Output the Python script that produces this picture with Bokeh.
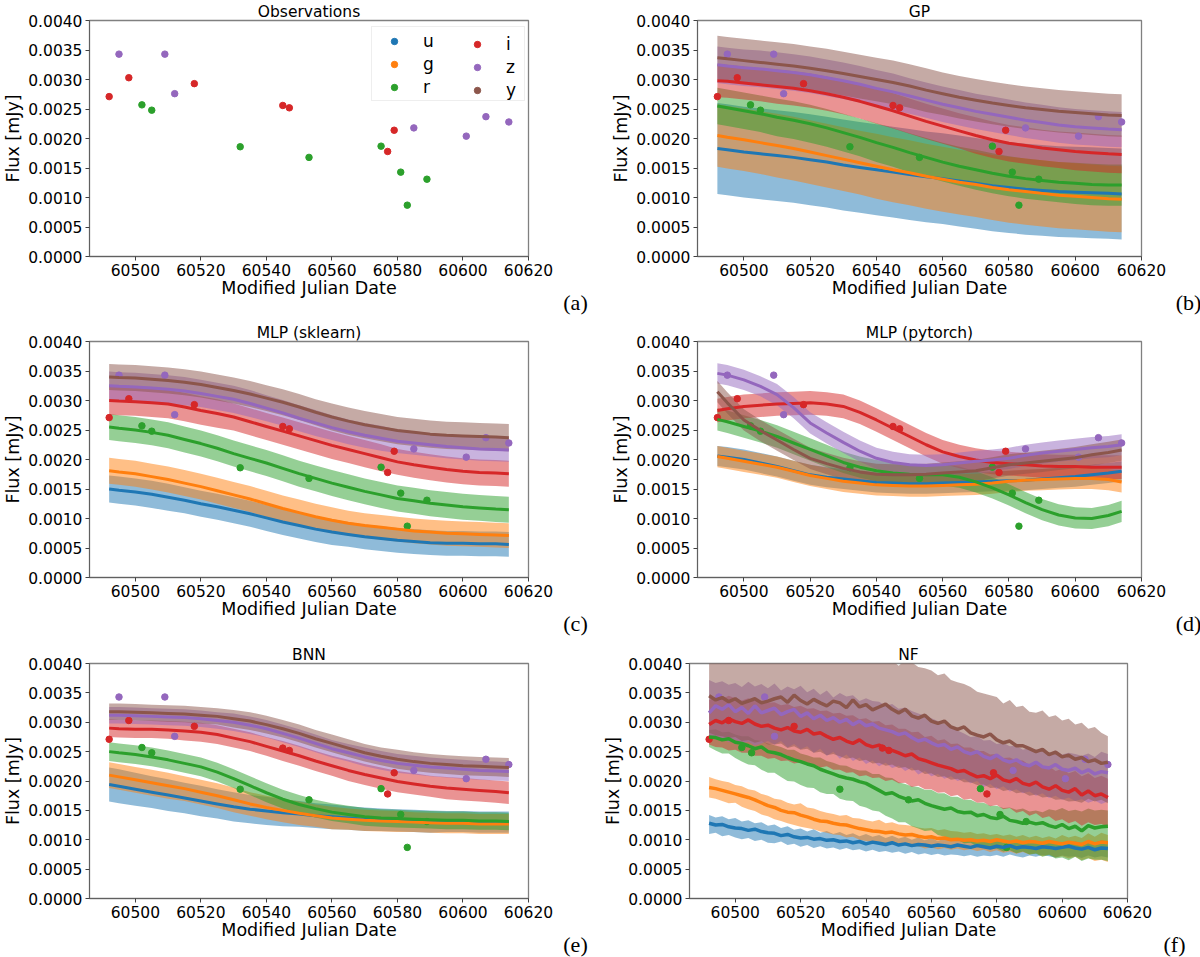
from bokeh.embed import file_html
from bokeh.layouts import column, row
from bokeh.models import ColumnDataSource, FixedTicker, Label, Legend, LegendItem, NumeralTickFormatter, Range1d
from bokeh.plotting import figure
from bokeh.resources import INLINE

# flux values below are in units of 1e-5 mJy
SCALE = 1e-5
BANDS = ["u", "g", "r", "i", "z", "y"]
COLORS = ["#1f77b4", "#ff7f0e", "#2ca02c", "#d62728", "#9467bd", "#8c564b"]
X_TICKS = [60500, 60520, 60540, 60560, 60580, 60600, 60620]
Y_TICKS = [0, 0.0005, 0.001, 0.0015, 0.002, 0.0025, 0.003, 0.0035, 0.004]
MISSING = float("nan")

# observations, u g y have none: the NaN only keeps their legend glyph alive
OBS_U_X = [MISSING]
OBS_U = [MISSING]
OBS_G_X = [MISSING]
OBS_G = [MISSING]
OBS_R_X = [60502, 60505, 60532, 60553, 60575, 60581, 60583, 60589]
OBS_R = [257, 248, 186, 168, 187, 143, 87, 131]
OBS_I_X = [60492, 60498, 60518, 60545, 60547, 60577, 60579]
OBS_I = [271, 303, 293, 256, 252, 178, 214]
OBS_Z_X = [60495, 60509, 60512, 60585, 60601, 60607, 60614]
OBS_Z = [343, 343, 276, 218, 204, 237, 228]
OBS_Y_X = [MISSING]
OBS_Y = [MISSING]

# smooth models are read at these dates
MJD = [60492, 60495, 60500, 60505, 60510, 60515, 60520, 60525, 60530, 60535, 60540, 60545, 60550,
       60555, 60560, 60565, 60570, 60575, 60580, 60585, 60590, 60595, 60600, 60605, 60610, 60614]

GP_U = [183, 181, 177, 174, 171, 168, 164, 160, 155, 151, 147, 143, 139, 135, 132, 128, 124, 120, 117, 114, 112, 110, 109, 108, 107, 106]
GP_G = [205, 202, 198, 193, 188, 183, 177, 171, 165, 159, 153, 147, 142, 136, 131, 126, 122, 117, 113, 110, 107, 104, 102, 100, 98, 97]
GP_R = [255, 252, 247, 242, 236, 231, 225, 218, 210, 202, 193, 185, 176, 168, 160, 153, 147, 141, 136, 132, 129, 126, 124, 122, 121, 121]
GP_I = [298, 297, 294, 291, 288, 285, 281, 276, 270, 263, 255, 247, 238, 229, 221, 213, 205, 198, 192, 188, 184, 181, 178, 176, 174, 173]
GP_Z = [325, 323, 320, 318, 315, 312, 308, 303, 298, 292, 285, 279, 272, 265, 258, 252, 246, 241, 236, 231, 227, 223, 220, 218, 216, 215]
GP_Y = [337, 335, 332, 329, 326, 323, 319, 315, 310, 305, 300, 295, 289, 282, 276, 270, 265, 260, 256, 252, 249, 246, 244, 242, 240, 239]
GP_U_ERR = [77, 77, 77, 77, 77, 77, 77, 77, 77, 77, 77, 77, 77, 77, 77, 77, 77, 77, 77, 77, 77, 77, 77, 77, 77, 77]
GP_G_ERR = [53, 53, 53, 53, 54, 54, 54, 54, 54, 54, 55, 55, 55, 55, 55, 55, 55, 55, 56, 56, 56, 56, 56, 56, 56, 56]
GP_R_ERR = [31, 31, 31, 31, 32, 32, 32, 32, 32, 32, 33, 33, 33, 33, 33, 33, 34, 34, 34, 34, 34, 34, 35, 35, 35, 35]
GP_I_ERR = [28, 28, 28, 28, 29, 29, 29, 29, 29, 29, 30, 30, 30, 30, 30, 30, 31, 31, 31, 31, 31, 31, 32, 32, 32, 32]
GP_Z_ERR = [31, 31, 31, 31, 31, 31, 31, 31, 31, 31, 31, 31, 30, 30, 30, 30, 30, 30, 30, 30, 30, 30, 30, 30, 30, 30]
GP_Y_ERR = [37, 37, 37, 37, 37, 37, 37, 37, 37, 37, 37, 37, 37, 37, 36, 36, 36, 36, 36, 36, 36, 36, 36, 36, 36, 36]

SK_U = [150, 148, 145, 141, 136, 131, 125, 120, 114, 108, 101, 94, 88, 82, 77, 73, 69, 66, 63, 61, 59, 58, 58, 57, 57, 56]
SK_G = [181, 179, 176, 171, 166, 160, 154, 147, 140, 133, 125, 117, 110, 103, 97, 92, 88, 85, 82, 79, 77, 75, 74, 73, 72, 71]
SK_R = [255, 253, 250, 246, 241, 234, 227, 219, 210, 202, 194, 185, 176, 168, 160, 153, 146, 140, 134, 130, 126, 123, 120, 118, 116, 115]
SK_I = [300, 299, 298, 296, 294, 289, 283, 278, 272, 264, 256, 248, 240, 232, 224, 217, 210, 203, 196, 191, 187, 183, 180, 178, 177, 176]
SK_Z = [325, 324, 323, 321, 319, 316, 312, 307, 302, 295, 287, 279, 270, 262, 254, 247, 241, 236, 231, 228, 225, 222, 220, 218, 217, 216]
SK_Y = [340, 339, 338, 336, 334, 331, 327, 322, 317, 311, 304, 297, 289, 280, 272, 265, 259, 254, 249, 246, 243, 241, 240, 239, 238, 237]
SK_U_ERR = [23, 23, 23, 23, 23, 22, 22, 22, 22, 22, 22, 22, 22, 22, 22, 21, 21, 21, 21, 21, 21, 21, 21, 21, 21, 21]
SK_G_ERR = [22, 22, 22, 22, 22, 22, 22, 22, 22, 22, 22, 22, 22, 22, 22, 21, 21, 21, 21, 21, 21, 21, 21, 21, 21, 21]
SK_R_ERR = [22, 22, 22, 22, 22, 22, 22, 22, 22, 22, 22, 22, 22, 22, 22, 22, 22, 22, 22, 22, 22, 22, 22, 22, 22, 22]
SK_I_ERR = [24, 24, 24, 24, 24, 24, 24, 24, 23, 23, 23, 23, 23, 23, 23, 23, 23, 23, 22, 22, 22, 22, 22, 22, 22, 22]
SK_Z_ERR = [24, 24, 24, 24, 24, 24, 23, 23, 23, 23, 22, 22, 22, 22, 21, 21, 21, 21, 20, 20, 20, 20, 20, 20, 20, 20]
SK_Y_ERR = [22, 22, 22, 22, 22, 22, 22, 22, 22, 22, 22, 22, 22, 22, 23, 23, 23, 23, 23, 23, 23, 23, 23, 23, 23, 23]

PT_U = [206, 204, 200, 194, 188, 181, 174, 170, 167, 164, 161, 160, 159, 159, 160, 161, 162, 163, 164, 165, 167, 169, 171, 174, 177, 180]
PT_G = [205, 202, 197, 192, 187, 180, 173, 168, 163, 160, 157, 156, 155, 155, 156, 157, 158, 160, 163, 165, 166, 167, 168, 168, 166, 162]
PT_R = [268, 264, 256, 248, 239, 228, 217, 206, 195, 187, 181, 177, 175, 174, 174, 170, 162, 152, 140, 127, 115, 106, 101, 100, 105, 112]
PT_I = [283, 286, 290, 292, 294, 295, 296, 294, 290, 280, 267, 253, 239, 225, 213, 205, 199, 195, 193, 191, 189, 188, 188, 187, 187, 187]
PT_Z = [346, 343, 335, 324, 310, 288, 262, 245, 229, 214, 202, 195, 191, 190, 191, 194, 197, 199, 202, 207, 211, 214, 217, 220, 222, 225]
PT_Y = [315, 296, 267, 249, 233, 217, 202, 193, 185, 179, 175, 174, 174, 175, 177, 179, 181, 186, 191, 194, 197, 200, 203, 208, 212, 216]
PT_U_ERR = [17, 17, 17, 17, 17, 17, 17, 17, 17, 17, 17, 17, 17, 17, 17, 17, 17, 17, 17, 17, 17, 17, 17, 17, 17, 17]
PT_G_ERR = [18, 18, 18, 18, 18, 18, 18, 18, 18, 18, 18, 18, 18, 18, 18, 18, 18, 18, 18, 18, 18, 18, 18, 18, 18, 18]
PT_R_ERR = [19, 19, 19, 19, 19, 19, 19, 19, 18, 18, 18, 18, 18, 18, 18, 18, 18, 18, 18, 18, 18, 18, 18, 18, 18, 18]
PT_I_ERR = [20, 20, 20, 20, 20, 20, 20, 20, 20, 20, 20, 20, 20, 20, 20, 20, 20, 20, 20, 20, 20, 20, 20, 20, 20, 20]
PT_Z_ERR = [17, 17, 17, 17, 18, 18, 18, 18, 18, 18, 18, 18, 18, 18, 18, 18, 18, 18, 18, 18, 18, 18, 18, 18, 18, 18]
PT_Y_ERR = [18, 18, 18, 18, 18, 18, 18, 18, 18, 18, 18, 18, 18, 18, 18, 18, 18, 18, 18, 18, 18, 18, 18, 18, 18, 18]

BN_U = [194, 191, 186, 181, 176, 171, 166, 161, 156, 152, 149, 146, 144, 141, 139, 137, 135, 134, 133, 132, 131, 131, 131, 130, 130, 130]
BN_G = [210, 207, 202, 197, 192, 187, 181, 175, 168, 161, 155, 150, 145, 141, 137, 135, 133, 132, 131, 130, 129, 128, 128, 127, 127, 127]
BN_R = [250, 248, 245, 241, 236, 230, 224, 215, 204, 192, 180, 169, 160, 153, 147, 143, 139, 137, 136, 135, 134, 133, 133, 132, 132, 131]
BN_I = [290, 289, 288, 288, 287, 285, 283, 279, 273, 267, 259, 251, 243, 234, 226, 218, 211, 205, 199, 195, 191, 188, 186, 184, 182, 180]
BN_Z = [312, 312, 311, 310, 309, 308, 306, 303, 300, 295, 289, 281, 273, 264, 255, 248, 241, 235, 230, 227, 224, 222, 220, 218, 217, 216]
BN_Y = [318, 318, 317, 316, 315, 314, 312, 310, 306, 302, 296, 289, 281, 272, 264, 256, 248, 242, 237, 233, 230, 228, 226, 225, 224, 223]
BN_U_ERR = [29, 29, 28, 27, 27, 26, 26, 25, 25, 24, 24, 23, 22, 21, 21, 20, 20, 19, 19, 19, 19, 18, 18, 18, 18, 18]
BN_G_ERR = [22, 22, 22, 22, 22, 21, 21, 21, 21, 20, 20, 20, 20, 19, 19, 18, 18, 18, 18, 17, 17, 17, 17, 17, 17, 17]
BN_R_ERR = [16, 16, 16, 16, 16, 16, 16, 16, 16, 16, 16, 16, 16, 15, 15, 15, 15, 15, 15, 15, 15, 15, 15, 15, 15, 15]
BN_I_ERR = [15, 15, 15, 15, 15, 16, 16, 16, 16, 16, 16, 17, 17, 17, 17, 18, 18, 18, 18, 18, 18, 19, 19, 19, 19, 19]
BN_Z_ERR = [14, 14, 14, 14, 14, 14, 14, 14, 15, 15, 15, 15, 15, 15, 15, 15, 16, 16, 16, 16, 16, 16, 16, 16, 16, 16]
BN_Y_ERR = [14, 14, 14, 14, 14, 14, 14, 14, 15, 15, 15, 15, 15, 15, 15, 15, 15, 15, 16, 16, 16, 16, 16, 16, 16, 16]

# the normalising flow panel is noisy, read every two days
NF_MJD = list(range(60492, 60615, 2))
NF_U = [128, 125, 126, 122, 120, 119, 116, 118, 114, 112, 111, 107, 109, 105, 103, 104, 101, 102, 99, 100, 97, 98, 95, 97, 93, 96, 94, 92, 95, 91, 93, 90, 92, 91, 89, 91, 90, 88, 91, 89, 87, 90, 88, 86, 89, 87, 90, 86, 88, 87, 85, 88, 87, 85, 87, 89, 86, 84, 87, 83, 86, 85]
NF_U_LO = [110, 112, 106, 108, 104, 101, 103, 98, 100, 95, 94, 97, 91, 93, 88, 91, 86, 89, 85, 87, 83, 86, 82, 84, 80, 83, 79, 81, 78, 80, 76, 79, 75, 77, 74, 76, 73, 75, 74, 72, 74, 71, 73, 72, 74, 71, 75, 72, 70, 73, 71, 74, 72, 70, 73, 71, 72, 69, 73, 70, 72, 70]
NF_U_HI = [142, 138, 140, 135, 137, 131, 133, 128, 130, 124, 126, 120, 123, 117, 119, 114, 118, 112, 115, 110, 113, 108, 111, 106, 110, 105, 108, 103, 107, 102, 105, 100, 104, 99, 103, 98, 102, 99, 101, 97, 100, 97, 99, 96, 100, 95, 98, 96, 97, 94, 97, 94, 96, 93, 96, 95, 97, 94, 98, 95, 99, 97]
NF_G = [189, 187, 184, 181, 178, 175, 172, 168, 163, 158, 155, 150, 147, 146, 142, 139, 135, 132, 131, 128, 126, 125, 122, 119, 117, 115, 114, 112, 113, 110, 108, 109, 106, 104, 105, 102, 103, 100, 101, 99, 100, 98, 99, 97, 100, 98, 96, 98, 95, 97, 96, 94, 97, 95, 93, 96, 94, 92, 97, 93, 96, 95]
NF_G_LO = [172, 170, 166, 162, 163, 156, 152, 149, 143, 140, 135, 132, 128, 125, 122, 120, 118, 114, 112, 109, 108, 104, 105, 100, 98, 96, 97, 93, 94, 91, 90, 88, 89, 85, 87, 84, 86, 83, 85, 82, 84, 81, 83, 79, 82, 78, 80, 76, 79, 75, 77, 72, 75, 70, 72, 68, 71, 65, 69, 64, 66, 62]
NF_G_HI = [207, 203, 200, 198, 193, 191, 186, 184, 178, 175, 170, 168, 163, 160, 162, 155, 153, 149, 146, 144, 141, 142, 137, 136, 133, 131, 134, 128, 130, 126, 125, 124, 121, 119, 120, 116, 118, 115, 114, 112, 113, 110, 111, 108, 110, 107, 109, 105, 108, 104, 107, 103, 106, 102, 108, 104, 107, 103, 111, 105, 112, 108]
NF_R = [275, 274, 270, 272, 266, 264, 260, 255, 258, 250, 248, 245, 240, 236, 233, 229, 226, 220, 216, 212, 208, 205, 203, 199, 196, 190, 184, 178, 180, 174, 170, 166, 168, 162, 158, 155, 152, 154, 148, 146, 147, 141, 143, 138, 136, 140, 133, 131, 128, 130, 127, 129, 124, 121, 126, 119, 123, 115, 124, 120, 122, 123]
NF_R_LO = [258, 252, 247, 247, 239, 233, 228, 227, 219, 214, 214, 207, 200, 199, 193, 189, 188, 181, 178, 178, 170, 167, 166, 158, 155, 150, 148, 141, 136, 130, 130, 123, 119, 115, 116, 108, 105, 101, 100, 94, 95, 89, 90, 85, 85, 80, 82, 77, 80, 75, 76, 71, 74, 68, 70, 65, 71, 64, 68, 66, 66, 64]
NF_R_HI = [287, 288, 283, 284, 279, 276, 276, 270, 268, 264, 261, 258, 253, 253, 247, 244, 240, 240, 234, 231, 227, 226, 221, 218, 218, 212, 212, 206, 205, 198, 195, 191, 190, 185, 185, 179, 179, 173, 173, 168, 168, 163, 163, 158, 158, 154, 155, 151, 153, 148, 150, 147, 152, 150, 154, 149, 151, 148, 153, 150, 151, 150]
NF_I = [296, 303, 299, 306, 301, 298, 304, 297, 293, 295, 290, 287, 291, 285, 283, 288, 280, 282, 276, 271, 274, 268, 264, 270, 262, 258, 261, 255, 252, 248, 243, 246, 238, 235, 231, 227, 224, 221, 216, 218, 212, 207, 209, 204, 210, 202, 199, 204, 196, 193, 198, 190, 186, 192, 184, 181, 187, 176, 183, 175, 178, 172]
NF_I_LO = [262, 258, 257, 252, 253, 248, 248, 243, 243, 238, 239, 234, 235, 230, 232, 227, 228, 223, 225, 219, 219, 214, 215, 208, 210, 205, 206, 200, 202, 196, 197, 190, 192, 186, 186, 180, 181, 174, 176, 168, 170, 163, 164, 157, 159, 152, 154, 146, 149, 141, 145, 137, 140, 132, 135, 128, 132, 124, 130, 125, 127, 122]
NF_I_HI = [338, 342, 340, 345, 341, 337, 341, 336, 337, 333, 334, 329, 331, 326, 328, 323, 324, 319, 320, 315, 316, 311, 312, 305, 307, 301, 302, 295, 296, 289, 289, 283, 284, 275, 277, 269, 271, 263, 264, 257, 257, 251, 251, 245, 246, 239, 240, 235, 235, 227, 229, 223, 225, 217, 221, 213, 217, 208, 213, 205, 209, 204]
NF_Z = [316, 328, 322, 330, 318, 325, 315, 328, 316, 320, 324, 313, 318, 322, 310, 316, 306, 312, 303, 308, 300, 305, 296, 302, 294, 297, 290, 287, 284, 279, 282, 274, 268, 271, 265, 260, 262, 254, 258, 250, 246, 250, 242, 238, 244, 236, 232, 236, 229, 226, 232, 224, 222, 228, 220, 218, 222, 214, 219, 212, 216, 214]
NF_Z_LO = [276, 271, 272, 266, 270, 264, 267, 260, 264, 268, 262, 268, 257, 263, 254, 259, 248, 255, 243, 250, 238, 245, 234, 240, 229, 235, 225, 231, 222, 226, 217, 223, 211, 217, 208, 212, 204, 208, 200, 204, 196, 200, 190, 195, 186, 191, 182, 186, 179, 182, 175, 179, 171, 175, 168, 172, 166, 169, 163, 167, 161, 165]
NF_Z_HI = [372, 367, 370, 364, 367, 360, 369, 361, 365, 358, 366, 354, 361, 356, 362, 351, 357, 347, 354, 342, 350, 344, 346, 336, 341, 336, 335, 328, 331, 323, 325, 319, 315, 311, 307, 302, 297, 291, 286, 281, 275, 276, 269, 270, 263, 265, 259, 260, 253, 256, 250, 254, 247, 252, 245, 248, 246, 243, 247, 241, 250, 246]
NF_Y = [345, 338, 342, 335, 340, 332, 336, 340, 333, 336, 340, 343, 334, 346, 337, 331, 339, 333, 328, 336, 333, 325, 338, 326, 330, 321, 326, 331, 322, 316, 322, 311, 307, 312, 302, 298, 302, 292, 288, 292, 282, 278, 275, 280, 270, 265, 268, 260, 260, 255, 250, 254, 245, 249, 241, 244, 237, 240, 233, 236, 230, 232]
NF_Y_LO = [282, 278, 276, 273, 275, 268, 270, 265, 268, 262, 262, 264, 256, 259, 253, 255, 248, 250, 244, 246, 242, 238, 240, 234, 236, 230, 231, 226, 228, 222, 224, 218, 219, 212, 213, 207, 208, 202, 204, 198, 198, 193, 194, 188, 189, 183, 185, 179, 181, 175, 177, 172, 173, 168, 169, 165, 166, 163, 170, 165, 168, 162]
NF_Y_HI = [425, 418, 432, 415, 410, 428, 412, 435, 410, 422, 408, 430, 414, 406, 426, 408, 420, 405, 418, 406, 424, 410, 416, 404, 422, 412, 408, 419, 405, 396, 406, 402, 394, 392, 388, 380, 383, 372, 368, 365, 360, 352, 349, 346, 343, 332, 338, 326, 328, 318, 316, 320, 309, 312, 303, 306, 296, 299, 289, 292, 282, 276]

OBS = {"u": (OBS_U_X, OBS_U), "g": (OBS_G_X, OBS_G), "r": (OBS_R_X, OBS_R),
       "i": (OBS_I_X, OBS_I), "z": (OBS_Z_X, OBS_Z), "y": (OBS_Y_X, OBS_Y)}


def flux(vals):
    return [v * SCALE for v in vals]


def make_axes(title, letter, w, h, left, top, bottom):
    p = figure(width=w, height=h, title=title, output_backend="svg", toolbar_location=None,
               x_range=Range1d(60486, 60620), y_range=Range1d(0, 0.004),
               min_border_left=left, min_border_right=w - left - 444,
               min_border_top=top, min_border_bottom=bottom)
    p.grid.visible = False
    p.outline_line_color = "#808080"
    p.outline_line_width = 1.3
    p.title.align = "center"
    p.title.text_font = "DejaVu Sans"
    p.title.text_font_size = "15.5px"
    p.title.text_font_style = "normal"
    p.title.text_color = "black"
    p.title.standoff = 0
    p.title.offset = 0
    for ax in (p.xaxis[0], p.yaxis[0]):
        ax.major_label_text_font = "DejaVu Sans"
        ax.major_label_text_font_size = "15.5px"
        ax.major_label_text_color = "black"
        ax.axis_label_text_font = "DejaVu Sans"
        ax.axis_label_text_font_size = "17.5px"
        ax.axis_label_text_font_style = "normal"
        ax.axis_label_text_color = "black"
        ax.major_tick_in = 0
        ax.major_tick_out = 4
        ax.minor_tick_line_color = None
        ax.axis_line_color = "#606060"
        ax.major_tick_line_color = "#404040"
    p.xaxis.ticker = FixedTicker(ticks=X_TICKS)
    p.yaxis.ticker = FixedTicker(ticks=Y_TICKS)
    p.yaxis.formatter = NumeralTickFormatter(format="0.0000")
    p.xaxis.major_label_standoff = 3
    p.yaxis.major_label_standoff = 3
    p.xaxis.axis_label = "Modified Julian Date"
    p.yaxis.axis_label = "Flux [mJy]"
    p.xaxis.axis_label_standoff = -1
    p.yaxis.axis_label_standoff = 2
    # panel letter goes in the right side panel, it sits below right of the x axis
    p.add_layout(Label(x=47, y=-46, x_units="screen", y_units="screen", text=letter,
                       text_font="Liberation Serif", text_font_size="22px",
                       text_align="center", text_baseline="middle", text_color="black"), "right")
    return p


def draw_dots(p, band):
    xs, ys = OBS[band]
    src = ColumnDataSource(data=dict(x=xs, y=flux(ys)))
    return p.scatter("x", "y", source=src, size=6.5, color=COLORS[BANDS.index(band)])


def draw_model(p, xs, means, lows, highs, width=3):
    # bands first, then the dots, the lines stay on top of all of them
    for i, band in enumerate(BANDS):
        p.varea(x=xs, y1=flux(lows[i]), y2=flux(highs[i]), fill_color=COLORS[i], fill_alpha=0.5)
    for band in BANDS:
        draw_dots(p, band)
    for i, band in enumerate(BANDS):
        p.line(xs, flux(means[i]), line_color=COLORS[i], line_width=width)


def draw_smooth(p, means, errs):
    lows = [[m - e for m, e in zip(ms, es)] for ms, es in zip(means, errs)]
    highs = [[m + e for m, e in zip(ms, es)] for ms, es in zip(means, errs)]
    draw_model(p, MJD, means, lows, highs)


def make_legend(items, location, **kw):
    return Legend(items=items, location=location, margin=0, padding=2, spacing=0,
                  glyph_width=40, glyph_height=16, label_height=23, label_standoff=9, label_width=99,
                  label_text_font="DejaVu Sans", label_text_font_size="17px", label_text_color="black", **kw)


p_a = make_axes("Observations", "(a)", 600, 320, 84, 20, 64)
dots = [draw_dots(p_a, b) for b in BANDS]
items = [LegendItem(label=b, renderers=[d]) for b, d in zip(BANDS, dots)]
p_a.add_layout(make_legend(items[:3], (282, 155), border_line_color="#dddddd", background_fill_alpha=0.8))
p_a.add_layout(make_legend(items[3:], (368, 155), border_line_color=None, background_fill_alpha=0))

p_b = make_axes("GP", "(b)", 600, 320, 97, 20, 64)
draw_smooth(p_b, [GP_U, GP_G, GP_R, GP_I, GP_Z, GP_Y],
            [GP_U_ERR, GP_G_ERR, GP_R_ERR, GP_I_ERR, GP_Z_ERR, GP_Y_ERR])

p_c = make_axes("MLP (sklearn)", "(c)", 600, 320, 84, 21, 63)
draw_smooth(p_c, [SK_U, SK_G, SK_R, SK_I, SK_Z, SK_Y],
            [SK_U_ERR, SK_G_ERR, SK_R_ERR, SK_I_ERR, SK_Z_ERR, SK_Y_ERR])

p_d = make_axes("MLP (pytorch)", "(d)", 600, 320, 97, 21, 63)
draw_smooth(p_d, [PT_U, PT_G, PT_R, PT_I, PT_Z, PT_Y],
            [PT_U_ERR, PT_G_ERR, PT_R_ERR, PT_I_ERR, PT_Z_ERR, PT_Y_ERR])

p_e = make_axes("BNN", "(e)", 600, 317, 84, 23, 59)
draw_smooth(p_e, [BN_U, BN_G, BN_R, BN_I, BN_Z, BN_Y],
            [BN_U_ERR, BN_G_ERR, BN_R_ERR, BN_I_ERR, BN_Z_ERR, BN_Y_ERR])

p_f = make_axes("NF", "(f)", 600, 317, 83, 23, 59)
draw_model(p_f, NF_MJD, [NF_U, NF_G, NF_R, NF_I, NF_Z, NF_Y],
           [NF_U_LO, NF_G_LO, NF_R_LO, NF_I_LO, NF_Z_LO, NF_Y_LO],
           [NF_U_HI, NF_G_HI, NF_R_HI, NF_I_HI, NF_Z_HI, NF_Y_HI], width=3.5)

page = column(row(p_a, p_b, spacing=0), row(p_c, p_d, spacing=0), row(p_e, p_f, spacing=0), spacing=0)
open("out.html", "w").write(file_html(page, INLINE))
